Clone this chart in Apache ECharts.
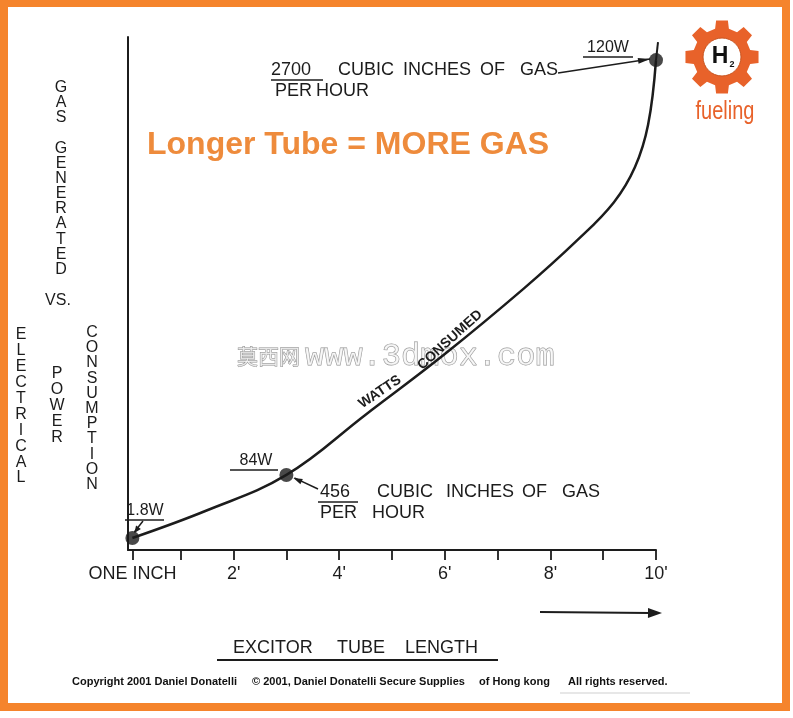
<!DOCTYPE html>
<html><head><meta charset="utf-8">
<script src="https://cdn.jsdelivr.net/npm/echarts@6/dist/echarts.min.js"></script>
<style>html,body{margin:0;padding:0;background:#fff}#c{width:793px;height:718px}</style>
</head><body><div id="c"></div>
<script>
// ---- data ----
const tubeLengthFt   = [0.083, 1.5, 3, 4.5, 6, 7.5, 8.5, 9.2, 9.6, 9.85, 10];
const gasCuInPerHour = [115, 265, 456, 782, 1110, 1465, 1723, 1930, 2120, 2350, 2700];
const markedLengthFt = [0.083, 3, 10];
const markedGas      = [115, 456, 2700];
const markedWatts    = ['1.8W', '84W', '120W'];
const tickValues     = [0.083, 1, 2, 3, 4, 5, 6, 7, 8, 9, 10];
const labelValues    = [0.083, 2, 4, 6, 8, 10];
const labelTexts     = ['ONE INCH', "2'", "4'", "6'", "8'", "10'"];

const SANS = "'Liberation Sans', Arial, sans-serif";
const INK = '#1c1c1c';
const ORANGE = '#F5842C';

const chart = echarts.init(document.getElementById('c'), null, {renderer: 'canvas'});

chart.setOption({
  animation: false,
  backgroundColor: '#fff',
  grid: {left: 128, right: 137, top: 37, bottom: 168},
  xAxis: {
    type: 'value', min: 0, max: 10,
    axisLine: {show: true, onZero: false, lineStyle: {color: INK, width: 2}},
    axisTick: {show: true, length: 10, customValues: tickValues, lineStyle: {color: INK, width: 1.8}},
    axisLabel: {
      show: true, customValues: labelValues, margin: 15,
      fontFamily: SANS, fontSize: 18, color: INK,
      formatter: function (v) {
        let best = 0;
        labelValues.forEach((lv, i) => { if (Math.abs(lv - v) < Math.abs(labelValues[best] - v)) best = i; });
        return labelTexts[best];
      }
    },
    splitLine: {show: false}
  },
  yAxis: {
    type: 'value', min: 50, max: 2825,
    axisLine: {show: true, onZero: false, lineStyle: {color: INK, width: 2}},
    axisTick: {show: false}, axisLabel: {show: false}, splitLine: {show: false}
  },
  series: [
    {
      type: 'line', smooth: 0.4, symbol: 'none', z: 3,
      data: tubeLengthFt.map((x, i) => [x, gasCuInPerHour[i]]),
      lineStyle: {color: INK, width: 2.5}
    },
    {
      type: 'scatter', symbolSize: 14, z: 4,
      data: markedLengthFt.map((x, i) => [x, markedGas[i]]),
      itemStyle: {color: INK}
    }
  ]
});

const P = markedLengthFt.map((x, i) => chart.convertToPixel({gridIndex: 0}, [x, markedGas[i]]));

function txt(text, x, y, size, opts) {
  opts = opts || {};
  return {
    type: 'text', x: x, y: y, rotation: opts.rotation || 0, scaleX: opts.scaleX || 1,
    z: opts.z || 10, silent: true,
    style: {
      text: text, x: 0, y: 0,
      font: (opts.weight || 'normal') + ' ' + size + 'px ' + (opts.family || SANS),
      fill: opts.fill || INK, stroke: opts.stroke, lineWidth: opts.lineWidth,
      lineHeight: opts.lineHeight,
      align: opts.align || 'left', textAlign: opts.align || 'left',
      verticalAlign: opts.valign || 'middle', textVerticalAlign: opts.valign || 'middle'
    }
  };
}
function line(x1, y1, x2, y2, w, color) {
  return {type: 'line', silent: true, z: 10, shape: {x1, y1, x2, y2},
          style: {stroke: color || INK, lineWidth: w || 1.5}};
}
function arrowHead(x1, y1, x2, y2, len, half) {
  const a = Math.atan2(y2 - y1, x2 - x1);
  const bx = x2 - len * Math.cos(a), by = y2 - len * Math.sin(a);
  const nx = -Math.sin(a) * half, ny = Math.cos(a) * half;
  return {type: 'polygon', silent: true, z: 10,
          shape: {points: [[x2, y2], [bx + nx, by + ny], [bx - nx, by - ny]]},
          style: {fill: INK}};
}
function words(list, y, size) {
  return list.map(w => txt(w[0], w[1], y, size));
}
function vertical(text, x, yTop, lh, size) {
  return txt(text.split('').join('\n'), x, yTop, size, {align: 'center', valign: 'top', lineHeight: lh});
}

const g = [];
// orange frame
g.push({type: 'rect', silent: true, z: 1, shape: {x: 4, y: 3, width: 782, height: 704},
        style: {fill: 'none', stroke: ORANGE, lineWidth: 8}});

// title
g.push(txt('Longer Tube = MORE GAS', 147, 145, 32, {weight: 'bold', fill: '#EE8B3C'}));

// y-axis caption (stacked letters)
g.push(vertical('GAS', 61, 80, 15, 16));
g.push(vertical('GENERATED', 61, 141, 15.1, 16));
g.push(txt('VS.', 58, 301, 16, {align: 'center'}));
g.push(vertical('ELECTRICAL', 21, 327, 15.9, 16));
g.push(vertical('POWER', 57, 365, 16.2, 16));
g.push(vertical('CONSUMPTION', 92, 325, 15.2, 16));

// x-axis caption + arrow
g.push(...words([['EXCITOR', 233], ['TUBE', 337], ['LENGTH', 405]], 648, 18));
g.push(line(217, 660, 498, 660, 2));
g.push(line(540, 612, 650, 613, 2));
g.push(arrowHead(540, 612, 662, 613, 14, 5));

// curve label
g.push(txt('WATTS', 380, 392, 14, {weight: 'bold', align: 'center', rotation: 34 * Math.PI / 180}));
g.push(txt('CONSUMED', 450, 340, 14, {weight: 'bold', align: 'center', rotation: 42 * Math.PI / 180}));

// 1.8W annotation
g.push(txt(markedWatts[0], 145, 511, 16, {align: 'center'}));
g.push(line(125, 520, 164, 520, 1.5));
g.push(line(143, 521, P[0][0] + 2, P[0][1] - 6, 1.5));
g.push(arrowHead(143, 521, P[0][0] + 2, P[0][1] - 5, 7, 3));

// 84W + 456 annotation
g.push(txt(markedWatts[1], 256, 461, 16, {align: 'center'}));
g.push(line(230, 470, 278, 470, 1.5));
g.push(...words([['456', 320], ['CUBIC', 377], ['INCHES', 446], ['OF', 522], ['GAS', 562]], 492, 18));
g.push(line(318, 502, 358, 502, 1.5));
g.push(...words([['PER', 320], ['HOUR', 372]], 513, 18));
g.push(line(318, 489, P[1][0] + 8, P[1][1] + 3, 1.5));
g.push(arrowHead(318, 489, P[1][0] + 7, P[1][1] + 3, 9, 3));

// 2700 + 120W annotation
g.push(...words([['2700', 271], ['CUBIC', 338], ['INCHES', 403], ['OF', 480], ['GAS', 520]], 70, 18));
g.push(line(271, 80, 323, 80, 1.5));
g.push(...words([['PER', 275], ['HOUR', 316]], 91, 18));
g.push(line(558, 73, P[2][0] - 6, P[2][1] - 1, 1.5));
g.push(arrowHead(558, 73, P[2][0] - 6, P[2][1] - 1, 12, 3));
g.push(txt(markedWatts[2], 608, 48, 16, {align: 'center'}));
g.push(line(583, 57, 633, 57, 1.5));
g.push(line(P[2][0] + 2, P[2][1] - 18, P[2][0], P[2][1], 2));

// watermark
g.push(txt('莫西网', 237, 356, 21, {family: "'Noto Sans CJK SC', sans-serif", fill: 'rgba(245,245,245,0.7)', stroke: '#8f8f8f', lineWidth: 0.9, z: 2}));
g.push(txt('www.3dmox.com', 305, 357, 32, {family: "'Liberation Mono', monospace", fill: 'rgba(245,245,245,0.7)', stroke: '#8f8f8f', lineWidth: 0.9, z: 2}));

// logo
(function () {
  const cx = 722, cy = 57, rOut = 37, rIn = 29, N = 8, pts = [];
  for (let k = 0; k < N; k++) {
    const a0 = k * 2 * Math.PI / N - Math.PI / 2;
    [[-0.24, rIn], [-0.16, rOut], [0.16, rOut], [0.24, rIn]].forEach(d => {
      pts.push([cx + d[1] * Math.cos(a0 + d[0]), cy + d[1] * Math.sin(a0 + d[0])]);
    });
  }
  g.push({type: 'polygon', silent: true, z: 5, shape: {points: pts}, style: {fill: '#E8622A'}});
  g.push({type: 'circle', silent: true, z: 6, shape: {cx: cx, cy: cy, r: 19}, style: {fill: '#fff', stroke: '#c9541f', lineWidth: 1}});
  g.push(txt('H', cx - 2, cy, 23, {weight: 'bold', align: 'center', fill: '#111', z: 7}));
  g.push(txt('2', cx + 10, cy + 8, 9, {weight: 'bold', align: 'center', fill: '#111', z: 7}));
  g.push(txt('fueling', 725, 112, 25, {align: 'center', scaleX: 0.8, fill: '#E8622A'}));
})();

// footer
[['Copyright 2001 Daniel Donatelli', 72], ['© 2001, Daniel Donatelli Secure Supplies', 252],
 ['of Hong kong', 479], ['All rights reserved.', 568]].forEach(f => {
  g.push(txt(f[0], f[1], 682, 11, {weight: 'bold', fill: '#111'}));
});
g.push(line(560, 693, 690, 693, 1, '#cfcfcf'));

chart.setOption({graphic: {elements: g}});
</script>
</body></html>
